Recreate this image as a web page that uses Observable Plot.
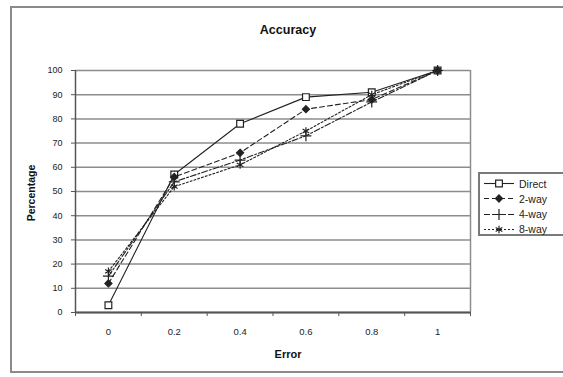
<!DOCTYPE html>
<html>
<head>
<meta charset="utf-8">
<script src="https://cdn.jsdelivr.net/npm/d3@7"></script>
<script src="https://cdn.jsdelivr.net/npm/@observablehq/plot@0.6"></script>
<style>
  html, body { margin: 0; padding: 0; background: #fff; overflow: hidden; }
  #chart { position: relative; width: 563px; height: 377px; font-family: "Liberation Sans", Arial, sans-serif; }
  #frame { position: absolute; left: 10px; top: 6px; width: 600px; height: 367px; border: 2px solid #8a8a8a; box-sizing: border-box; pointer-events: none; }
  .lbl { position: absolute; color: #111; font-weight: bold; white-space: nowrap; }
  #title { left: 0; width: 576px; top: 23px; text-align: center; font-size: 12.5px; }
  #xtitle { left: 0; width: 576px; top: 348px; text-align: center; font-size: 11px; }
  #ytitle { left: 31px; top: 193px; font-size: 10.5px; transform: translate(-50%, -50%) rotate(-90deg); }
  #legend { position: absolute; left: 478px; top: 172px; width: 110px; height: 64px; border: 2px solid #7a7a7a; box-sizing: border-box; background: #fff; }
  #legend .row { position: absolute; left: 3px; height: 15px; display: flex; align-items: center; font-size: 10.5px; color: #222; }
  #legend .row span { margin-left: 4px; }
</style>
</head>
<body>
<div id="chart">
  <div id="plot"></div>
  <div id="frame"></div>
  <div class="lbl" id="title">Accuracy</div>
  <div class="lbl" id="xtitle">Error</div>
  <div class="lbl" id="ytitle">Percentage</div>
  <div id="legend"></div>
</div>
<script>
// Error levels along the category axis, and their labels
const errorLevels = [0, 0.2, 0.4, 0.6, 0.8, 1];
const errorLabels = ["0", "0.2", "0.4", "0.6", "0.8", "1"];
const percentTicks = [0, 10, 20, 30, 40, 50, 60, 70, 80, 90, 100];

// Accuracy (%) for each method
const seriesNames = ["Direct", "2-way", "4-way", "8-way"];
const direct   = [3, 57, 78, 89, 91, 100];
const twoWay   = [12, 56, 66, 84, 88, 100];
const fourWay  = [15, 54, 63, 73, 87, 100];
const eightWay = [17, 52, 61, 75, 90, 100];

// drawing style per series
const styles = [
  {values: direct,   dash: null,      symbol: "square",   fill: "white", r: 3.8},
  {values: twoWay,   dash: "5,3",     symbol: "diamond2", fill: "#222",  r: 3.2},
  {values: fourWay,  dash: "6,2,2,2", symbol: "plus",     fill: "none",  r: 3.6},
  {values: eightWay, dash: "2,2",     symbol: "asterisk", fill: "none",  r: 3.6}
];

const rows = seriesNames.map((name, i) =>
  errorLevels.map((e, j) => ({series: name, error: e, pct: styles[i].values[j]})));

// each category occupies a slot of width 0.2 centred on its error level
const half = (errorLevels[1] - errorLevels[0]) / 2;
const slotEdges = errorLevels.map(e => e - half).concat([errorLevels[errorLevels.length - 1] + half]);
const xDomain = [slotEdges[0], slotEdges[slotEdges.length - 1]];

const ink = "#222";
const marks = [
  Plot.gridY(percentTicks, {stroke: "#8c8c8c", strokeOpacity: 1, strokeWidth: 1.5}),
  Plot.ruleX([xDomain[1]], {stroke: "#8c8c8c", strokeWidth: 1.5}),
  Plot.ruleX([xDomain[0]], {stroke: "#555", strokeWidth: 1.5}),
  Plot.ruleY([0], {stroke: "#555", strokeWidth: 2}),
  Plot.axisY({ticks: percentTicks, tickSize: 4, tickPadding: 9, fontSize: 9, label: null, stroke: "#555"}),
  Plot.axisX({ticks: slotEdges, tickSize: 4, tickFormat: () => "", label: null, stroke: "#555"}),
  Plot.axisX({ticks: errorLevels, tickSize: 0, tickPadding: 16, fontSize: 9.5,
              tickFormat: d => errorLabels[errorLevels.indexOf(d)], label: null})
];
styles.forEach((s, i) => {
  marks.push(Plot.line(rows[i], {x: "error", y: "pct", stroke: ink, strokeWidth: 1.1,
                                 strokeDasharray: s.dash}));
});
styles.forEach((s, i) => {
  marks.push(Plot.dot(rows[i], {x: "error", y: "pct", symbol: () => s.symbol, r: s.r,
                                fill: s.fill, stroke: ink, strokeWidth: 1.2}));
});

const chart = Plot.plot({
  width: 563,
  height: 377,
  marginLeft: 75,
  marginRight: 93,
  marginTop: 70,
  marginBottom: 65,
  style: {fontFamily: "'Liberation Sans', Arial, sans-serif", color: "#222", background: "transparent"},
  x: {domain: xDomain, axis: null},
  y: {domain: [0, 100], axis: null},
  symbol: {type: "identity"},
  marks
});
document.getElementById("plot").appendChild(chart);

// legend: line sample with its marker, then the series name
const symbolTypes = {square: d3.symbolSquare, diamond2: d3.symbolDiamond2, plus: d3.symbolPlus, asterisk: d3.symbolAsterisk};
const legend = d3.select("#legend");
seriesNames.forEach((name, i) => {
  const s = styles[i];
  const row = legend.append("div").attr("class", "row").style("top", (2 + i * 15.3) + "px");
  const svg = row.append("svg").attr("width", 32).attr("height", 15);
  svg.append("line").attr("x1", 1).attr("x2", 31).attr("y1", 7.5).attr("y2", 7.5)
    .attr("stroke", ink).attr("stroke-width", 1.1).attr("stroke-dasharray", s.dash);
  svg.append("path").attr("transform", "translate(16,7.5)")
    .attr("d", d3.symbol(symbolTypes[s.symbol], Math.PI * s.r * s.r)())
    .attr("fill", s.fill).attr("stroke", ink).attr("stroke-width", 1.2);
  row.append("span").text(name);
});
</script>
</body>
</html>
